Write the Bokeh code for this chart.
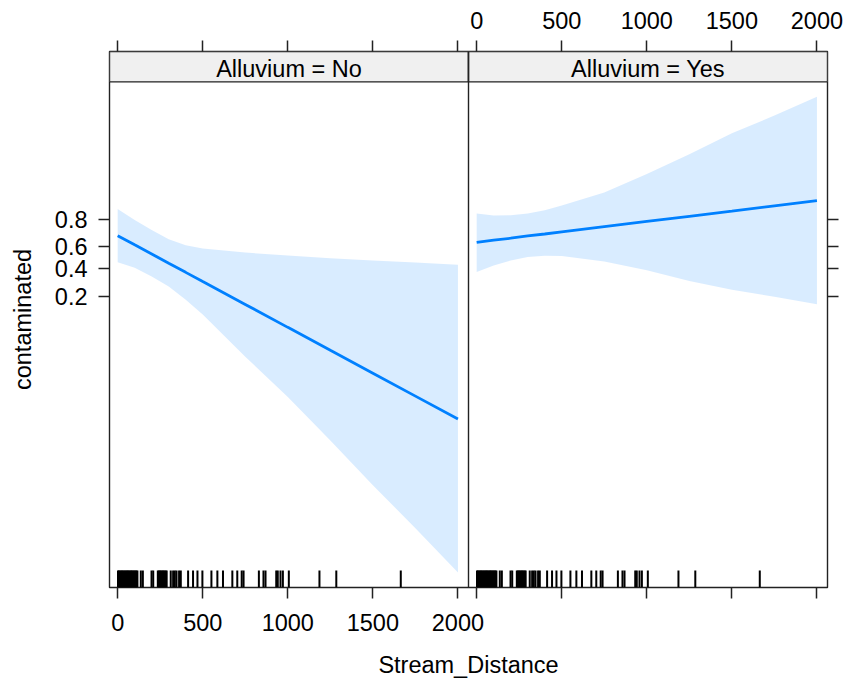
import numpy as np
from bokeh.plotting import figure
from bokeh.models import Range1d, FixedTicker, LinearAxis
from bokeh.core.properties import value
from bokeh.embed import file_html
from bokeh.resources import INLINE

# ---------------- data ----------------
panels = ["Alluvium = No", "Alluvium = Yes"]
x_label = "Stream_Distance"
y_label = "contaminated"

stream_distance = [0, 100, 200, 300, 400, 500, 750, 1000, 1250, 1500, 1750, 2000]

fit_no = [0.690, 0.615, 0.535, 0.450, 0.371, 0.297, 0.156, 0.0745, 0.0339, 0.0151, 0.00663, 0.00290]
upper_no = [0.854, 0.797, 0.733, 0.662, 0.611, 0.584, 0.547, 0.520, 0.495, 0.475, 0.458, 0.438]
lower_no = [0.460, 0.411, 0.336, 0.261, 0.179, 0.114, 0.0271, 0.00643, 0.00133, 0.000264, 0.0000560, 0.0000112]

fit_yes = [0.636, 0.655, 0.670, 0.688, 0.703, 0.719, 0.756, 0.789, 0.818, 0.844, 0.868, 0.888]
upper_yes = [0.833, 0.822, 0.823, 0.832, 0.848, 0.869, 0.914, 0.954, 0.977, 0.9891, 0.99424, 0.99707]
lower_yes = [0.375, 0.430, 0.475, 0.5075, 0.5175, 0.515, 0.4675, 0.389, 0.3015, 0.2387, 0.1962, 0.1571]

rug_distance = [2, 7, 12, 18, 23, 28, 33, 39, 44, 50, 55, 61, 66, 72, 78, 83, 88, 94, 99, 105,
                110, 116, 136, 148, 199, 209, 236, 242, 248, 253, 259, 265, 270, 276, 282, 288,
                312, 326, 336, 346, 361, 371, 414, 443, 469, 498, 551, 586, 619, 674, 703, 729,
                740, 830, 857, 869, 932, 941, 957, 971, 1006, 1186, 1285, 1664]

x_ticks = [0, 500, 1000, 1500, 2000]
x_tick_labels = ["0", "500", "1000", "1500", "2000"]
y_ticks = [0.2, 0.4, 0.6, 0.8]
y_tick_labels = ["0.2", "0.4", "0.6", "0.8"]

# ---------------- layout / style ----------------
FONT = "Liberation Sans"
FS = "23.5px"
LINE_COL = "#0080ff"
X_LO = -48          # left limit of each panel (data units)
PANEL_W = 2110      # width of each panel (data units)
Y_LO = -11.94       # logit scale bottom
Y_PANEL_TOP = 6.37  # top of panel / bottom of strip
Y_TOP = 7.47        # top of strip


def logit(p):
    p = np.asarray(p, dtype=float)
    return np.log(p / (1 - p))


p = figure(width=846, height=683,
           x_range=Range1d(X_LO, X_LO + 2 * PANEL_W),
           y_range=Range1d(Y_LO, Y_TOP),
           output_backend="svg", toolbar_location=None,
           x_axis_location=None, y_axis_location=None,
           min_border_left=109, min_border_right=19,
           min_border_top=51, min_border_bottom=96)
p.grid.visible = False
p.outline_line_color = "#222222"
p.outline_line_width = 1.4
p.background_fill_color = "white"
p.border_fill_color = "white"

series = [(fit_no, lower_no, upper_no), (fit_yes, lower_yes, upper_yes)]
xs = np.asarray(stream_distance, dtype=float)
rug = np.asarray(rug_distance, dtype=float)

for i, (fit, lo, hi) in enumerate(series):
    off = i * PANEL_W
    u = xs + off
    p.varea(x=u, y1=logit(lo), y2=logit(hi), fill_color=LINE_COL, fill_alpha=0.15)
    p.line(u, logit(fit), line_color=LINE_COL, line_width=2.8)
    ru = rug + off
    p.segment(x0=ru, y0=np.full(len(ru), Y_LO), x1=ru, y1=np.full(len(ru), Y_LO + 0.62),
              line_color="black", line_width=2)
    # strip
    p.quad(left=[X_LO + off], right=[X_LO + off + PANEL_W], bottom=[Y_PANEL_TOP], top=[Y_TOP],
           fill_color="#f0f0f0", line_color="#222222", line_width=1.4)
    p.text(x=[X_LO + off + PANEL_W / 2], y=[(Y_PANEL_TOP + Y_TOP) / 2], text=[panels[i]],
           text_font=value(FONT), text_font_size=FS, text_align="center",
           text_baseline="middle", text_color="black", y_offset=2)

# panel separator
p.segment(x0=[X_LO + PANEL_W], y0=[Y_LO], x1=[X_LO + PANEL_W], y1=[Y_TOP],
          line_color="#222222", line_width=1.4)

left_ticks = [int(t) for t in x_ticks]
right_ticks = [int(t + PANEL_W) for t in x_ticks]
all_x_ticks = left_ticks + right_ticks
bottom_over = {t: l for t, l in zip(left_ticks, x_tick_labels)}
bottom_over.update({t: "" for t in right_ticks})
top_over = {t: "" for t in left_ticks}
top_over.update({t: l for t, l in zip(right_ticks, x_tick_labels)})

y_pos = [float(v) for v in logit(y_ticks)]
left_over = {t: l for t, l in zip(y_pos, y_tick_labels)}
right_over = {t: "" for t in y_pos}


def style_axis(ax, standoff):
    ax.axis_line_color = None
    ax.major_tick_in = 0
    ax.major_tick_out = 11
    ax.major_tick_line_color = "#222222"
    ax.major_tick_line_width = 1.5
    ax.minor_tick_line_color = None
    ax.major_label_text_font = FONT
    ax.major_label_text_font_size = FS
    ax.major_label_text_color = "black"
    ax.major_label_standoff = standoff
    ax.axis_label_text_font = FONT
    ax.axis_label_text_font_size = FS
    ax.axis_label_text_font_style = "normal"
    ax.axis_label_text_color = "black"


bottom = LinearAxis(ticker=FixedTicker(ticks=all_x_ticks), major_label_overrides=bottom_over,
                    axis_label=x_label)
style_axis(bottom, 15)
bottom.axis_label_standoff = 18
p.add_layout(bottom, "below")

top = LinearAxis(ticker=FixedTicker(ticks=all_x_ticks), major_label_overrides=top_over)
style_axis(top, 12)
p.add_layout(top, "above")

left = LinearAxis(ticker=FixedTicker(ticks=y_pos), major_label_overrides=left_over,
                  axis_label=y_label)
style_axis(left, 11)
left.axis_label_standoff = 16
p.add_layout(left, "left")

right = LinearAxis(ticker=FixedTicker(ticks=y_pos), major_label_overrides=right_over)
style_axis(right, 0)
p.add_layout(right, "right")

open("out.html", "w").write(file_html(p, INLINE))
